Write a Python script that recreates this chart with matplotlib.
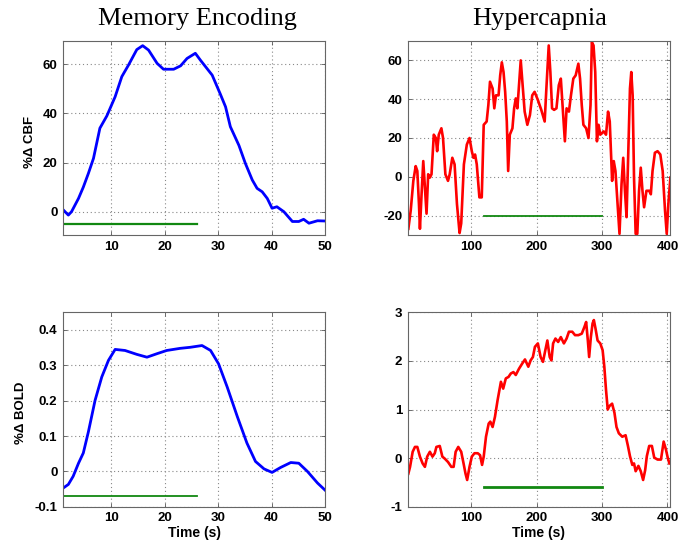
import matplotlib
matplotlib.use("Agg")
import matplotlib.pyplot as plt
from matplotlib.ticker import FuncFormatter

# ---------------- data ----------------
mem_t_cbf = [1.06, 2, 2.6, 3.9, 4.8, 5.75, 6.7, 7.9, 9.2, 10.75, 12, 13.25, 14.8, 15.9, 17, 18.6,
             19.8, 21.7, 23, 24.2, 25.75, 26.7, 28.9, 30.4, 31.4, 32.3, 33.9, 35.1, 36.4, 37.3,
             38.25, 39.2, 40.1, 41, 42.3, 43.9, 45.1, 46, 47, 48.6, 50]
mem_cbf = [0.7, -1.4, 0, 5.4, 10, 15.6, 21.7, 34, 39, 46.8, 55, 59.7, 66, 67.6, 65.8, 60.4,
           58, 58, 59.4, 62.4, 64.5, 61.7, 55.6, 48, 42.7, 34.6, 27, 19.7, 12.9, 9.5,
           8.1, 5.4, 1.4, 2, 0, -4, -4, -3.1, -4.7, -3.7, -3.8]

mem_t_bold = [1.06, 2, 2.9, 3.9, 4.8, 5.75, 7, 8.25, 9.5, 10.75, 12.6, 14.8, 16.7, 18.6, 20.4,
              22.9, 24.8, 27, 28.6, 30.1, 31.7, 33.6, 35.4, 37, 38.6, 40.1, 41.7, 43.6, 45.1,
              46.7, 48.6, 50]
mem_bold = [-0.047, -0.037, -0.014, 0.023, 0.052, 0.112, 0.201, 0.267, 0.314, 0.345, 0.342,
            0.331, 0.323, 0.333, 0.342, 0.348, 0.351, 0.356, 0.342, 0.304, 0.239, 0.155, 0.08,
            0.028, 0.007, -0.003, 0.011, 0.025, 0.023, 0.0, -0.033, -0.053]

hyp_t_cbf = [4, 7.6, 11.6, 15.2, 17.7, 20.2, 21.7, 24.2, 26.8, 29.3, 31.8, 34.3, 36.9, 39.4,
             42.9, 46, 48, 50.5, 54.5, 57, 60.6, 64.6, 67.2, 71.2, 74.7, 78.3, 82.3, 84.8, 88.9,
             93.4, 97.5, 101, 103.5, 106, 108.6, 112.6, 116.2, 119.2, 123.7, 126.3, 128.8, 132.8,
             135.4, 137.9, 141.9, 144.4, 146.9, 149.5, 152, 154.5, 156.6, 159.1, 163.1, 165.7,
             168.2, 170.7, 173.2, 175.8, 178.3, 181.8, 185.9, 189.9, 193.4, 197, 202, 207.2,
             212.4, 215, 218.6, 221.1, 223.7, 226.8, 230.4, 234, 237.1, 239.7, 243.3, 245.9,
             249.5, 252.6, 256.2, 259.8, 263.9, 266.5, 269.1, 271.6, 275.8, 279.4, 282.5, 284.5,
             287.1, 289.7, 292.3, 294.8, 297.4, 302.6, 306.2, 309.3, 311.9, 315.5, 318, 320.6,
             324.2, 326.8, 329.9, 332.5, 335.1, 337.6, 340.2, 342.8, 344.8, 346.9, 349, 351.5,
             354, 356.7, 359.3, 361.9, 364.4, 368, 372.2, 374.7, 377.3, 380.9, 385, 389.2,
             392.8, 396.4, 399, 401.5, 404.6]
hyp_cbf = [-26.8, -17.4, -2.1, 5.5, 3, -14, -26.8, -9, 8.1, -5.5, -19, 1.3, -0.4, 1.3,
           21.7, 20, 13.2, 21.7, 25, 20, 1.3, -2.1, 1.3, 9.8, 6.4, -14, -29, -24, 6.4,
           16.6, 20, 13.2, 9.8, 11.5, 6.4, -10.6, -10.6, 26.8, 28.5, 37, 49, 45.5,
           35.3, 42, 42, 52.3, 59, 54, 43.8, 28.5, 3, 21.7, 25, 35.3,
           40.4, 35.3, 47.2, 60, 49, 33.6, 26.8, 31.9, 42, 43.8, 39.6, 34.5,
           28.5, 45.5, 67.7, 54, 35.3, 34.5, 35.3, 47.2, 50.6, 37, 18.3, 35.3,
           33.6, 42, 50.6, 52.3, 58.3, 50.6, 37, 26.8, 25, 20, 37, 69.4,
           67.7, 54, 18.3, 26.8, 21.7, 23.4, 21.7, 33.6, 28.5, -2.1, 8.1, 3,
           -15.7, -29.4, -3.8, 9.8, -7.2, -20.8, 13.2, 45.5, 54, 42, -0.4, -29.4,
           -29.4, -7.2, 4.7, -7.2, -15.7, -7.2, -7.2, -9, 3, 12.4, 13.2, 11.5,
           3, -17.4, -29.4, -14, -0.4]

hyp_t_bold = [4, 6.6, 10.6, 14.1, 17.7, 21.7, 25.8, 29.3, 32.8, 36.9, 40.9, 44.4, 46.9, 52, 56,
              59.6, 64.6, 69.7, 73.2, 76.3, 80.3, 84.8, 88.4, 91.4, 93.9, 97.5, 101, 105.1, 110.1,
              113.6, 116.7, 119.2, 122.7, 126.8, 129.3, 132.8, 136.4, 140.4, 145.5, 149, 153,
              157.1, 160.6, 164.6, 168.2, 173.2, 178.3, 182.3, 187.4, 190.9, 194.4, 197.5, 202,
              206.2, 209.8, 213.4, 216.5, 220.1, 222.7, 225.3, 228.9, 233, 237.1, 241.8, 245.9,
              249.5, 254.6, 258.8, 263.9, 269.1, 273.2, 275.8, 278.4, 280.4, 283, 285.6, 287.6,
              290.2, 293.3, 297.4, 301, 303.6, 306.2, 308.8, 311.3, 315.5, 319.1, 322.2, 325.8,
              331, 336.1, 339.7, 342.8, 346.4, 349, 351.5, 355.7, 359.3, 362.9, 366, 368.6,
              372.2, 376.3, 379.9, 385, 390.2, 394.3, 397.9, 400.5, 403.1]
hyp_bold = [-0.32, -0.18, 0.13, 0.23, 0.23, 0.03, -0.11, -0.18, 0.03, 0.13, 0.03, 0.1, 0.23, 0.25,
            0.03, -0.01, -0.08, -0.18, -0.18, 0.13, 0.23, 0.13, -0.11, -0.32, -0.45, -0.18, 0.03,
            0.1, 0.1, 0.06, -0.14, 0.03, 0.44, 0.71, 0.75, 0.64, 0.85, 1.19, 1.57, 1.43, 1.64,
            1.67, 1.74, 1.77, 1.71, 1.84, 1.95, 2.03, 1.88, 2.01, 2.08, 2.29, 2.36,
            2.08, 1.98, 2.22, 2.42, 2.08, 2.01, 2.36, 2.46, 2.39, 2.49, 2.36, 2.46,
            2.6, 2.6, 2.53, 2.53, 2.56, 2.7, 2.8, 2.42, 2.08, 2.49, 2.77, 2.84,
            2.66, 2.42, 2.36, 2.22, 1.88, 1.4, 1.0, 1.07, 1.12, 0.93, 0.64, 0.51,
            0.44, 0.47, 0.25, 0.04, -0.14, -0.11, -0.27, -0.16, -0.27, -0.45, -0.25, 0.04,
            0.25, 0.25, 0.01, -0.03, -0.03, 0.34, 0.17, 0.01, -0.11]

# stimulus bars: [start, end], level
mem_stim = [1, 26]
mem_cbf_stim_level = -5.2
mem_bold_stim_level = -0.07
hyp_stim = [120, 300]
hyp_cbf_stim_level = -20
hyp_bold_stim_level = -0.6

titles = ["Memory Encoding", "Hypercapnia"]
ylabels = ["%\u0394 CBF", "%\u0394 BOLD"]
xlabel = "Time (s)"

mem_xticks = [10, 20, 30, 40, 50]
hyp_xticks = [100, 200, 300, 400]
mem_cbf_yticks = [0, 20, 40, 60]
mem_bold_yticks = [-0.1, 0, 0.1, 0.2, 0.3, 0.4]
hyp_cbf_yticks = [-20, 0, 20, 40, 60]
hyp_bold_yticks = [-1, 0, 1, 2, 3]

# ---------------- figure ----------------
plt.rcParams['font.family'] = ['Liberation Sans', 'DejaVu Sans']
W, H = 689, 550
fig = plt.figure(figsize=(W / 100, H / 100), dpi=100)


def box(l, t, r, b):
    return [l / W, 1 - b / H, (r - l) / W, (b - t) / H]


ax_tl = fig.add_axes(box(63, 41, 325, 235))
ax_tr = fig.add_axes(box(407.7, 41, 670, 235))
ax_bl = fig.add_axes(box(63, 312.3, 325, 506.7))
ax_br = fig.add_axes(box(407.7, 312.3, 670, 506.7))

fmt = FuncFormatter(lambda v, p: "%g" % round(v, 6))

blue = "#0000ff"
red = "#ff0000"
green = "#118811"

ax_tl.plot(mem_t_cbf, mem_cbf, color=blue, lw=2.0)
ax_tl.plot(mem_stim, [mem_cbf_stim_level] * 2, color=green, lw=1.6)
ax_tl.set_xlim(1, 50)
ax_tl.set_ylim(-9.5, 69.5)
ax_tl.set_xticks(mem_xticks)
ax_tl.set_yticks(mem_cbf_yticks)
ax_tl.set_ylabel(ylabels[0])

ax_bl.plot(mem_t_bold, mem_bold, color=blue, lw=2.0)
ax_bl.plot(mem_stim, [mem_bold_stim_level] * 2, color=green, lw=1.3)
ax_bl.set_xlim(1, 50)
ax_bl.set_ylim(-0.1, 0.45)
ax_bl.set_xticks(mem_xticks)
ax_bl.set_yticks(mem_bold_yticks)
ax_bl.set_ylabel(ylabels[1])
ax_bl.set_xlabel(xlabel)

ax_tr.plot(hyp_t_cbf, hyp_cbf, color=red, lw=1.9)
ax_tr.plot(hyp_stim, [hyp_cbf_stim_level] * 2, color=green, lw=1.3)
ax_tr.set_xlim(3, 404)
ax_tr.set_ylim(-30, 70)
ax_tr.set_xticks(hyp_xticks)
ax_tr.set_yticks(hyp_cbf_yticks)

ax_br.plot(hyp_t_bold, hyp_bold, color=red, lw=1.9)
ax_br.plot(hyp_stim, [hyp_bold_stim_level] * 2, color=green, lw=2.0)
ax_br.set_xlim(3, 404)
ax_br.set_ylim(-1, 3)
ax_br.set_xticks(hyp_xticks)
ax_br.set_yticks(hyp_bold_yticks)
ax_br.set_xlabel(xlabel)

for ax in (ax_tl, ax_tr, ax_bl, ax_br):
    ax.grid(True, linestyle=(0, (1, 2.5)), color="#888888", lw=0.8)
    ax.yaxis.set_major_formatter(fmt)
    ax.tick_params(direction="in", length=3, width=0.6, color="#555555",
                   top=True, right=True, labelsize=9.5, pad=4)
    for lab in ax.get_xticklabels() + ax.get_yticklabels():
        lab.set_fontweight("bold")
    for s in ax.spines.values():
        s.set_color("#666666")
        s.set_linewidth(0.8)
    ax.xaxis.label.set_fontsize(10)
    ax.xaxis.label.set_fontweight("bold")
    ax.xaxis.labelpad = 1
    ax.yaxis.label.set_fontsize(9.5)
    ax.yaxis.label.set_fontweight("bold")

ax_tl.yaxis.set_label_coords(-0.103, 0.48)
ax_bl.yaxis.set_label_coords(-0.137, 0.485)

fig.text(197 / W, 1 - 25 / H, titles[0], family=["Liberation Serif"], fontsize=19,
         ha="center", va="baseline")
fig.text(540 / W, 1 - 25 / H, titles[1], family=["Liberation Serif"], fontsize=19,
         ha="center", va="baseline")

fig.savefig("out.png", dpi=100, facecolor="white")
